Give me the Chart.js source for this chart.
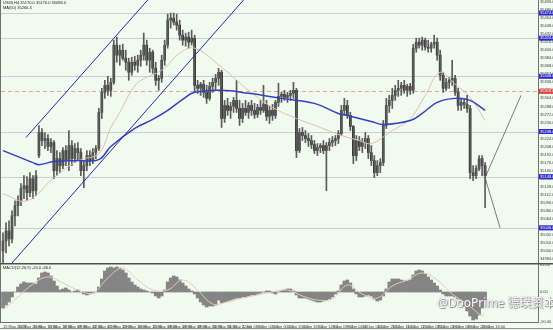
<!DOCTYPE html>
<html>
<head>
<meta charset="utf-8">
<script src="https://cdn.jsdelivr.net/npm/chart.js@4.4.0/dist/chart.umd.min.js"></script>
<style>
html, body { margin: 0; padding: 0; background: #f0faee; }
#wrap { position: relative; width: 553px; height: 330px; overflow: hidden; background: #f0faee; }
#main { position: absolute; left: 0; top: 0; }
#macd { position: absolute; left: 0; top: 263px; }
#wm { position: absolute; left: 437px; top: 293px; font: 12px "Noto Sans", "Noto Sans CJK SC", sans-serif; color: #fff;
      text-shadow: 0 0 1px #777, 1px 1px 1px #888; white-space: nowrap; letter-spacing: 0; }
</style>
</head>
<body>
<div id="wrap">
  <canvas id="main" width="553" height="263"></canvas>
  <canvas id="macd" width="553" height="67"></canvas>
  <div id="wm">@DooPrime 德璞资本</div>
</div>
<script>
// bougies H4 (index 0..161)
const opens = [35000,35020,35040,35024,35070,35090,35100,35124,35130,35116,35144,35120,35190,35236,35220,35224,35208,35216,35160,35184,
35170,35200,35180,35210,35184,35204,35196,35160,35170,35190,35180,35196,35204,35276,35316,35330,35320,35336,35410,35390,
35400,35384,35376,35356,35376,35370,35380,35390,35410,35380,35396,35364,35340,35344,35380,35410,35460,35464,35456,35450,
35430,35420,35426,35416,35424,35330,35324,35332,35316,35304,35328,35336,35344,35356,35264,35290,35280,35288,35300,35284,
35264,35284,35276,35290,35280,35272,35286,35280,35292,35268,35280,35270,35296,35308,35312,35306,35310,35314,35320,35200,
35236,35230,35224,35220,35212,35200,35206,35210,35200,35210,35216,35220,35224,35234,35280,35290,35270,35248,35190,35220,
35208,35216,35224,35196,35180,35156,35170,35176,35250,35290,35300,35310,35320,35324,35330,35320,35328,35320,35404,35416,
35410,35420,35406,35404,35412,35416,35390,35350,35324,35336,35340,35344,35316,35290,35296,35292,35284,35156,35150,35164,
35184,35170];
const highs = [35036,35056,35060,35080,35100,35110,35134,35150,35148,35156,35150,35160,35250,35244,35236,35232,35224,35220,35200,35196,
35206,35210,35240,35220,35214,35216,35204,35180,35200,35200,35204,35210,35284,35324,35340,35348,35344,35420,35426,35410,
35412,35400,35384,35386,35388,35390,35400,35434,35420,35404,35400,35376,35350,35390,35420,35472,35474,35474,35472,35460,
35440,35434,35436,35440,35430,35340,35336,35340,35330,35336,35344,35352,35364,35360,35300,35304,35296,35306,35340,35300,
35294,35300,35296,35300,35294,35292,35300,35330,35300,35288,35292,35300,35334,35316,35320,35316,35320,35336,35324,35244,
35246,35240,35234,35230,35220,35214,35214,35220,35216,35224,35228,35230,35240,35290,35304,35300,35276,35250,35230,35228,
35224,35236,35230,35210,35190,35180,35184,35260,35304,35310,35324,35330,35340,35336,35340,35332,35334,35412,35424,35424,
35426,35424,35420,35416,35430,35424,35400,35356,35344,35346,35380,35350,35324,35304,35302,35310,35290,35170,35170,35190,
35190,35176];
const lows = [34976,34996,35010,35016,35050,35070,35090,35104,35100,35108,35104,35110,35186,35210,35204,35200,35196,35144,35150,35156,
35164,35170,35160,35170,35176,35180,35150,35126,35160,35170,35174,35184,35200,35264,35304,35310,35308,35332,35376,35370,
35380,35360,35340,35350,35360,35356,35368,35380,35370,35356,35354,35330,35320,35336,35370,35404,35444,35450,35440,35420,
35410,35408,35404,35410,35316,35314,35310,35306,35294,35300,35316,35320,35330,35246,35256,35270,35264,35276,35276,35250,
35256,35270,35264,35270,35264,35266,35272,35276,35260,35254,35260,35264,35288,35296,35300,35296,35300,35304,35186,35196,
35220,35216,35208,35204,35194,35190,35196,35194,35120,35200,35208,35210,35214,35230,35270,35264,35240,35174,35180,35200,
35196,35204,35184,35170,35146,35150,35156,35170,35244,35276,35284,35300,35308,35310,35314,35308,35312,35314,35396,35404,
35400,35400,35396,35396,35404,35380,35340,35316,35320,35324,35330,35310,35280,35280,35284,35276,35144,35140,35144,35160,
35150,35086];
const closes = [35020,35040,35024,35070,35090,35100,35124,35130,35116,35144,35120,35150,35236,35220,35224,35208,35216,35160,35184,35170,
35200,35180,35210,35184,35204,35196,35160,35170,35190,35180,35196,35204,35276,35316,35330,35320,35336,35410,35390,35400,
35384,35376,35356,35376,35370,35380,35390,35410,35380,35396,35364,35340,35344,35380,35410,35460,35464,35456,35450,35430,
35420,35426,35416,35424,35330,35324,35332,35316,35304,35328,35336,35344,35356,35264,35290,35280,35288,35300,35284,35264,
35284,35276,35290,35280,35272,35286,35280,35292,35268,35280,35270,35296,35308,35312,35306,35310,35314,35320,35200,35236,
35230,35224,35220,35212,35200,35206,35210,35200,35210,35216,35220,35224,35234,35280,35290,35270,35248,35190,35220,35208,
35216,35224,35196,35180,35156,35170,35176,35250,35290,35300,35310,35320,35324,35330,35320,35328,35320,35404,35416,35410,
35420,35406,35404,35412,35416,35390,35350,35324,35336,35340,35344,35316,35290,35296,35292,35284,35156,35150,35164,35184,
35170,35150];

// moyennes mobiles (relevées tous les quelques index)
const slowMaIdx = [0,5,10,12,17,25,32,36,44,50,55,60,64,73,82,93,104,112,115,123,127,136,140,145,151,156,161];
const slowMa    = [35200,35188,35176,35172,35178,35180,35182,35208,35244,35262,35280,35302,35316,35320,35314,35304,35294,35274,35270,35258,35252,35260,35274,35296,35304,35300,35280];
const fastMaIdx = [0,8,17,25,32,36,39,43,46,53,59,64,73,82,90,98,106,113,119,123,129,136,141,146,151,156,161];
const fastMa    = [35114,35100,35146,35180,35194,35246,35276,35320,35340,35360,35394,35404,35366,35320,35286,35264,35246,35230,35220,35214,35236,35264,35310,35356,35332,35306,35260];

// canal et projections
const channelUpper = [[7.67, 35226], [48.33, 35500]];
const channelLower = [[3, 34976], [80.33, 35500]];
const projUp   = [[161, 35146], [173, 35310]];
const projDown = [[161, 35146], [166, 35046]];

// niveaux horizontaux
const blueLevels = [35474, 35424, 35348, 35238, 35148, 35046];
const redLevel = 35318;

// MACD
const macdHist = [-48,-39,-30,-15,0,15,24,30,27,27,27,24,42,57,60,57,48,33,18,6,
9,12,6,0,3,6,0,-6,-9,-6,-3,0,15,39,63,72,75,72,75,72,
66,57,42,30,21,15,9,6,3,0,-3,-12,-18,-12,6,30,42,48,45,36,
27,18,9,3,-6,-18,-30,-39,-45,-42,-42,-39,-24,-33,-30,-27,-24,-21,-18,-18,
-15,-15,-12,-9,-9,-6,-3,0,3,3,-3,-6,0,3,6,9,9,3,-9,-18,
-18,-18,-21,-24,-27,-30,-30,-27,-24,-21,-15,-6,3,21,33,36,27,9,-6,-15,
-15,-12,-9,-12,-21,-27,-24,-12,9,30,39,39,39,36,33,33,36,51,63,66,
63,54,45,36,27,18,6,-6,-12,-12,-12,-15,-21,-30,-42,-57,-72,-84,-81,-69,
-48,-24];
const signalIdx = [0,5,10,15,20,25,30,35,40,45,50,55,60,65,70,75,80,85,90,95,100,105,110,115,120,125,130,135,140,145,150,155,160,161];
const signal    = [-54,-15,24,45,27,6,-3,42,72,36,6,6,36,6,-36,-30,-18,-9,0,6,-12,-24,-21,21,-6,-18,18,36,57,36,-6,-36,-72,-66];

// étiquettes de temps (un tous les 5 index)
const timeLabels = ['15 May 2023','15 May 20:00','16 May 16:00','17 May 12:00','18 May 08:00','19 May 04:00','22 May 00:00','22 May 20:00',
'23 May 16:00','24 May 12:00','25 May 08:00','26 May 04:00','29 May 00:00','29 May 20:00','30 May 16:00','31 May 12:00',
'1 Jun 08:00','2 Jun 04:00','5 Jun 00:00','5 Jun 20:00','6 Jun 16:00','7 Jun 12:00','8 Jun 08:00','9 Jun 04:00',
'12 Jun 00:00','12 Jun 20:00','13 Jun 16:00','14 Jun 12:00','15 Jun 08:00','16 Jun 04:00','19 Jun 00:00','19 Jun 20:00','20 Jun 16:00'];

const X_MIN = -0.67, X_MAX = 178.67;
const tinyFont = { size: 4, family: 'Liberation Sans' };
const pts = arr => arr.map(p => ({ x: p[0], y: p[1] }));

// grille, cadres et étiquettes colorées
const framePlugin = {
  id: 'frame',
  beforeDatasetsDraw(chart, args, opts) {
    const { ctx, chartArea: a } = chart;
    ctx.save();
    if (opts.levels) {
      const y = chart.scales.y;
      ctx.lineWidth = 1;
      ctx.strokeStyle = '#c9cdd8';
      opts.levels.forEach(v => {
        const py = Math.round(y.getPixelForValue(v)) + 0.5;
        ctx.beginPath(); ctx.moveTo(a.left, py); ctx.lineTo(a.right, py); ctx.stroke();
      });
      ctx.strokeStyle = '#e4a58a';
      ctx.setLineDash([4, 3]);
      const py = Math.round(y.getPixelForValue(opts.red)) + 0.5;
      ctx.beginPath(); ctx.moveTo(a.left, py); ctx.lineTo(a.right, py); ctx.stroke();
      ctx.setLineDash([]);
    }
    ctx.restore();
  },
  afterDraw(chart, args, opts) {
    const { ctx, chartArea: a, width, height } = chart;
    ctx.save();
    ctx.strokeStyle = '#707070';
    ctx.lineWidth = 1;
    ctx.beginPath(); ctx.moveTo(0.5, 0); ctx.lineTo(0.5, a.bottom); ctx.stroke();
    ctx.beginPath(); ctx.moveTo(a.right + 0.5, 0); ctx.lineTo(a.right + 0.5, a.bottom); ctx.stroke();
    if (opts.axisLine) {
      ctx.strokeStyle = '#505050';
      ctx.lineWidth = 1.5;
      ctx.beginPath(); ctx.moveTo(0, 0.75); ctx.lineTo(width, 0.75); ctx.stroke();
      ctx.lineWidth = 1;
      ctx.strokeStyle = '#707070';
      ctx.beginPath(); ctx.moveTo(0, a.bottom + 0.5); ctx.lineTo(a.right + 1, a.bottom + 0.5); ctx.stroke();
      ctx.strokeStyle = '#909090';
      ctx.beginPath(); ctx.moveTo(0, height - 1.5); ctx.lineTo(width, height - 1.5); ctx.stroke();
    }
    ctx.font = '4px "Liberation Sans"';
    ctx.textBaseline = 'middle';
    if (opts.levels) {
      const y = chart.scales.y;
      const tag = (v, col) => {
        const py = y.getPixelForValue(v);
        ctx.fillStyle = col;
        ctx.fillRect(a.right + 1, py - 2.5, width - a.right - 1, 5);
        ctx.fillStyle = '#ffffff';
        ctx.textAlign = 'left';
        ctx.fillText(v.toFixed(2), a.right + 2, py);
      };
      opts.levels.forEach(v => tag(v, '#2a2ac8'));
      tag(opts.red, '#e03c3c');
    }
    if (opts.title) {
      ctx.fillStyle = '#202020';
      ctx.textAlign = 'left';
      ctx.textBaseline = 'top';
      opts.title.forEach((t, k) => ctx.fillText(t, 3, opts.titleTop + k * 5));
    }
    ctx.restore();
  }
};

const candleColor = c => closes[c.dataIndex] >= opens[c.dataIndex] ? '#3c3c3c' : '#1a1a1a';

new Chart(document.getElementById('main'), {
  type: 'bar',
  data: {
    datasets: [
      { type: 'line', data: pts(channelUpper), borderColor: '#2626b4', borderWidth: 1, pointRadius: 0 },
      { type: 'line', data: pts(channelLower), borderColor: '#2626b4', borderWidth: 1, pointRadius: 0 },
      { type: 'line', data: slowMaIdx.map((x, k) => ({ x, y: slowMa[k] })), borderColor: '#3440c4', borderWidth: 1.5, pointRadius: 0, tension: 0.4 },
      { type: 'line', data: fastMaIdx.map((x, k) => ({ x, y: fastMa[k] })), borderColor: '#dcc0a8', borderWidth: 1, pointRadius: 0, tension: 0.4 },
      { data: lows.map((l, i) => ({ x: i, y: [l, highs[i]] })), backgroundColor: '#5a5a5a', barThickness: 1, grouped: false },
      { data: opens.map((o, i) => ({ x: i, y: [o, closes[i]] })), backgroundColor: candleColor, barThickness: 2, grouped: false },
      { type: 'line', data: pts(projUp), borderColor: '#7a7a7a', borderWidth: 1, pointRadius: 0 },
      { type: 'line', data: pts(projDown), borderColor: '#7a7a7a', borderWidth: 1, pointRadius: 0 }
    ]
  },
  options: {
    responsive: false,
    animation: false,
    layout: { padding: { left: 1, top: 0, right: 0, bottom: 0 } },
    plugins: {
      legend: { display: false },
      tooltip: { enabled: false },
      frame: { levels: blueLevels, red: redLevel, titleTop: 1, title: ['US30,H4 35170.0 35176.0 35086.0', 'MA(50) 35260.4'] }
    },
    scales: {
      x: { type: 'linear', offset: false, min: X_MIN, max: X_MAX, display: false },
      y: {
        position: 'right', min: 34976, max: 35500,
        grid: { display: false, drawTicks: false },
        border: { display: false },
        afterFit(s) { s.width = 15; s.paddingTop = 0; s.paddingBottom = 0; },
        afterBuildTicks(s) {
          const t = [];
          for (let v = 34984; v <= 35496; v += 16) t.push({ value: v });
          s.ticks = t;
        },
        ticks: { font: tinyFont, color: '#404040', padding: 2, callback: v => v.toFixed(2) }
      }
    }
  },
  plugins: [framePlugin]
});

new Chart(document.getElementById('macd'), {
  type: 'bar',
  data: {
    datasets: [
      { type: 'line', data: signalIdx.map((x, k) => ({ x, y: signal[k] })), borderColor: '#e2ccb6', borderWidth: 1, pointRadius: 0, tension: 0.4 },
      { data: macdHist.map((v, i) => ({ x: i, y: v })), backgroundColor: '#858585', barThickness: 3, grouped: false }
    ]
  },
  options: {
    responsive: false,
    animation: false,
    layout: { padding: { left: 1, top: 2, right: 0, bottom: 0 } },
    plugins: {
      legend: { display: false },
      tooltip: { enabled: false },
      frame: { axisLine: true, titleTop: 3, title: ['MACD(12,26,9) -24.0 -66.0'] }
    },
    scales: {
      x: {
        type: 'linear', offset: false, min: X_MIN, max: X_MAX,
        grid: { display: false, drawTicks: false },
        border: { display: false },
        afterFit(s) { s.height = 8; s.paddingLeft = 0; s.paddingRight = 0; },
        afterBuildTicks(s) { s.ticks = timeLabels.map((t, k) => ({ value: k * 5 })); },
        ticks: { font: tinyFont, color: '#404040', padding: 2, maxRotation: 0, autoSkip: false, align: 'start',
                 callback: v => timeLabels[v / 5] }
      },
      y: {
        position: 'right', min: -90, max: 81,
        grid: { display: false, drawTicks: false },
        border: { display: false },
        afterFit(s) { s.width = 15; s.paddingTop = 0; s.paddingBottom = 0; },
        afterBuildTicks(s) { s.ticks = [{ value: -90 }, { value: 0 }, { value: 81 }]; },
        ticks: { font: tinyFont, color: '#404040', padding: 2, callback: v => v.toFixed(2) }
      }
    }
  },
  plugins: [framePlugin]
});
</script>
</body>
</html>
